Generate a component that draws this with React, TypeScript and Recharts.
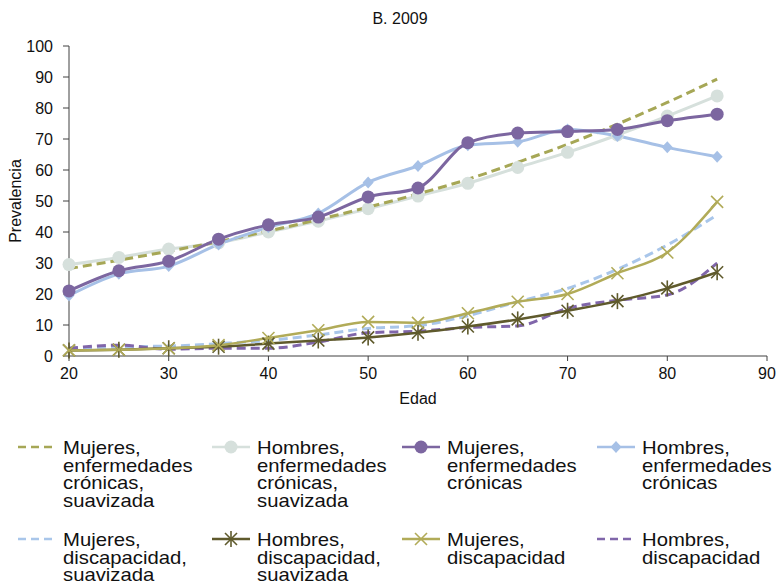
import React from "react";
import { LineChart, Line, XAxis, YAxis, Label } from "recharts";

const ages = [20, 25, 30, 35, 40, 45, 50, 55, 60, 65, 70, 75, 80, 85];

const mujCronSuav = [28.2, 30.9, 33.8, 36.9, 40.3, 44, 48, 52.3, 57, 62.5, 68.3, 74.8, 81.8, 89.3];
const homCronSuav = [29.5, 31.8, 34.5, 36.5, 40, 43.5, 47.5, 51.6, 55.7, 60.8, 65.7, 71.3, 77.4, 83.9];
const mujCron = [21, 27.5, 30.6, 37.7, 42.3, 44.8, 51.3, 54.2, 68.8, 71.9, 72.4, 73.1, 75.9, 78];
const homCron = [19.5, 26.5, 29, 36, 41.5, 46, 56, 61.3, 68, 69.1, 73.1, 71, 67.3, 64.3];
const mujDiscSuav = [2.5, 3, 3.2, 4, 5, 6.8, 8.9, 9.8, 13, 17.5, 21.8, 28, 35.8, 45.5];
const homDiscSuav = [1.8, 2, 2.5, 3, 4, 5, 6, 7.5, 9.5, 11.8, 14.6, 17.7, 21.8, 27];
const mujDisc = [1.8, 2, 2.5, 3.5, 5.8, 8.3, 11, 10.7, 13.8, 17.5, 20, 26.7, 33.4, 49.7];
const homDisc = [2.5, 3.5, 2.2, 2.5, 2.5, 4.5, 7.5, 8, 9.2, 9.7, 15.4, 18, 19.7, 30];

const xTicks = [20, 30, 40, 50, 60, 70, 80, 90];
const yTicks = [0, 10, 20, 30, 40, 50, 60, 70, 80, 90, 100];

const data = ages.map((a, i) => ({
  edad: a,
  mujCronSuav: mujCronSuav[i],
  homCronSuav: homCronSuav[i],
  mujCron: mujCron[i],
  homCron: homCron[i],
  mujDiscSuav: mujDiscSuav[i],
  homDiscSuav: homDiscSuav[i],
  mujDisc: mujDisc[i],
  homDisc: homDisc[i],
}));

const C = {
  olive: "#a6a756",
  gray: "#d6e0dc",
  purple: "#7c66a0",
  blue: "#a6c0e6",
  blueDash: "#a9c6ea",
  dark: "#5f5a2c",
  yellow: "#b1ab58",
  purpleDash: "#8066aa",
};

const FONT = "'Liberation Sans', Arial, sans-serif";

type Marker = "none" | "circle" | "diamond" | "x" | "star";

function drawMarker(kind: Marker, cx: number, cy: number, color: string, key?: string) {
  if (kind === "circle") return <circle key={key} cx={cx} cy={cy} r={6.5} fill={color} />;
  if (kind === "diamond")
    return (
      <path
        key={key}
        d={`M${cx},${cy - 6} L${cx + 5.5},${cy} L${cx},${cy + 6} L${cx - 5.5},${cy} Z`}
        fill={color}
      />
    );
  if (kind === "x" || kind === "star")
    return (
      <g key={key} stroke={color} strokeWidth={1.6}>
        <line x1={cx - 6} y1={cy - 6} x2={cx + 6} y2={cy + 6} />
        <line x1={cx - 6} y1={cy + 6} x2={cx + 6} y2={cy - 6} />
        {kind === "star" && <line x1={cx} y1={cy - 8} x2={cx} y2={cy + 8} />}
      </g>
    );
  return <g key={key} />;
}

const dotFn = (kind: Marker, color: string) => (p: any) =>
  drawMarker(kind, p.cx, p.cy, color, `${kind}-${p.index}`);

const legendItems: { label: string[]; color: string; dash: boolean; marker: Marker }[] = [
  { label: ["Mujeres,", "enfermedades", "crónicas,", "suavizada"], color: C.olive, dash: true, marker: "none" },
  { label: ["Hombres,", "enfermedades", "crónicas,", "suavizada"], color: C.gray, dash: false, marker: "circle" },
  { label: ["Mujeres,", "enfermedades", "crónicas"], color: C.purple, dash: false, marker: "circle" },
  { label: ["Hombres,", "enfermedades", "crónicas"], color: C.blue, dash: false, marker: "diamond" },
  { label: ["Mujeres,", "discapacidad,", "suavizada"], color: C.blueDash, dash: true, marker: "none" },
  { label: ["Hombres,", "discapacidad,", "suavizada"], color: C.dark, dash: false, marker: "star" },
  { label: ["Mujeres,", "discapacidad"], color: C.yellow, dash: false, marker: "x" },
  { label: ["Hombres,", "discapacidad"], color: C.purpleDash, dash: true, marker: "none" },
];

const colX = [18, 212, 402, 597];
const rowY = [437, 529];

function ChartLegend() {
  return (
    <>
      {legendItems.map((it, i) => {
        const col = i % 4;
        const row = Math.floor(i / 4);
        return (
          <div
            key={i}
            style={{
              position: "absolute",
              left: colX[col],
              top: rowY[row],
              display: "flex",
              alignItems: "flex-start",
              fontFamily: FONT,
              fontSize: 18.6,
              lineHeight: "17.5px",
              color: "#111",
            }}
          >
            <svg width={38} height={20}>
              <line
                x1={0}
                y1={10}
                x2={38}
                y2={10}
                stroke={it.color}
                strokeWidth={2.5}
                strokeDasharray={it.dash ? "8 5" : undefined}
              />
              {drawMarker(it.marker, 19, 10, it.color)}
            </svg>
            <div style={{ marginLeft: 7, marginTop: 2, transform: "scaleX(1.09)", transformOrigin: "left top" }}>
              {it.label.map((l, j) => (
                <div key={j}>{l}</div>
              ))}
            </div>
          </div>
        );
      })}
    </>
  );
}

export default function App() {
  const tick = { fontFamily: FONT, fontSize: 16, fill: "#111" };
  return (
    <div style={{ position: "absolute", left: 0, top: 0, width: 783, height: 582, background: "#fff" }}>
      <div
        style={{
          position: "absolute",
          top: 10,
          left: 0,
          width: 783,
          textAlign: "center",
          fontFamily: FONT,
          fontSize: 16,
          color: "#111",
          paddingLeft: 17,
          boxSizing: "border-box",
        }}
      >
        B. 2009
      </div>
      <LineChart
        width={783}
        height={410}
        data={data}
        margin={{ top: 46, right: 16, left: 24, bottom: 24 }}
        style={{ position: "absolute", left: 0, top: 0 }}
      >
        <XAxis
          dataKey="edad"
          type="number"
          domain={[20, 90]}
          ticks={xTicks}
          tick={tick}
          tickSize={5}
          tickMargin={7}
          stroke="#404040"
          height={30}
        >
          <Label value="Edad" position="insideBottom" offset={-18} style={{ fontFamily: FONT, fontSize: 16, fill: "#111" }} />
        </XAxis>
        <YAxis
          domain={[0, 100]}
          ticks={yTicks}
          tick={tick}
          tickSize={6}
          tickMargin={10}
          stroke="#404040"
          width={45}
          interval={0}
        >
          <Label
            value="Prevalencia"
            angle={-90}
            position="insideLeft"
            offset={-9}
            style={{ fontFamily: FONT, fontSize: 16, fill: "#111", textAnchor: "middle" }}
          />
        </YAxis>
        <Line dataKey="homCronSuav" type="monotone" stroke={C.gray} strokeWidth={3} dot={dotFn("circle", C.gray)} isAnimationActive={false} />
        <Line dataKey="mujCronSuav" type="monotone" stroke={C.olive} strokeWidth={3} strokeDasharray="9 5" dot={false} isAnimationActive={false} />
        <Line dataKey="homCron" type="monotone" stroke={C.blue} strokeWidth={3} dot={dotFn("diamond", C.blue)} isAnimationActive={false} />
        <Line dataKey="mujCron" type="monotone" stroke={C.purple} strokeWidth={3} dot={dotFn("circle", C.purple)} isAnimationActive={false} />
        <Line dataKey="mujDiscSuav" type="monotone" stroke={C.blueDash} strokeWidth={3} strokeDasharray="9 5" dot={false} isAnimationActive={false} />
        <Line dataKey="homDisc" type="monotone" stroke={C.purpleDash} strokeWidth={3} strokeDasharray="9 5" dot={false} isAnimationActive={false} />
        <Line dataKey="homDiscSuav" type="monotone" stroke={C.dark} strokeWidth={2.5} dot={dotFn("star", C.dark)} isAnimationActive={false} />
        <Line dataKey="mujDisc" type="monotone" stroke={C.yellow} strokeWidth={2.5} dot={dotFn("x", C.yellow)} isAnimationActive={false} />
      </LineChart>
      <ChartLegend />
    </div>
  );
}
